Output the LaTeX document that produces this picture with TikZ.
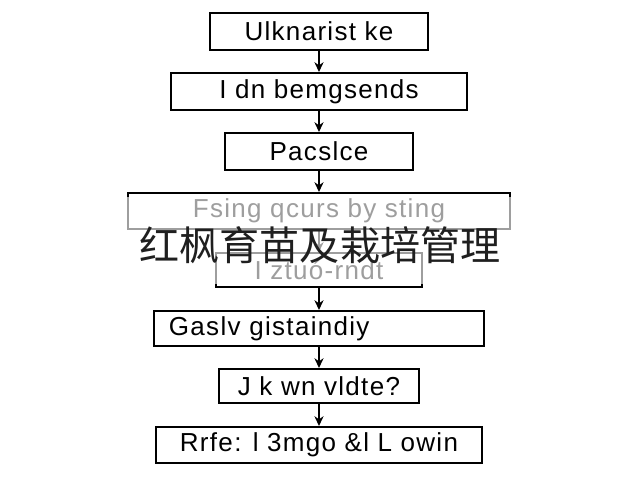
\documentclass[tikz,border=0pt]{standalone}
\usepackage{fontspec}
\setmainfont{Liberation Sans}[LetterSpace=5]
\newfontfamily\cjk{Noto Sans CJK SC}
\usetikzlibrary{arrows.meta}

\begin{document}
\begin{tikzpicture}[x=0.025cm,y=-0.025cm,
    stepbox/.style={draw, line width=1.4pt, inner sep=0pt, align=center,
      font=\fontsize{18.5}{21}\selectfont},
    flow/.style={-{Stealth[length=7pt,width=6.5pt]}, line width=1.2pt}]
    \useasboundingbox (0,0) rectangle (640,480);
    \fill[white] (0,0) rectangle (640,480);
    % steps of the chart
    \node[stepbox, minimum width=5.425cm, minimum height=0.925cm] (s1) at (319,31.5) {Ulknarist ke};
    \node[stepbox, minimum width=7.375cm, minimum height=0.925cm] (s2) at (319,91.5) {I dn bemgsends};
    \node[stepbox, minimum width=4.675cm, minimum height=0.925cm] (s3) at (319,151.5) {Pacslce};
    \node[stepbox, minimum width=9.55cm, minimum height=0.9cm] (s4) at (319,211) {Fsing qcurs by sting};
    \node[stepbox, minimum width=5.15cm, minimum height=0.85cm] (s5) at (319,270) {I ztuó-rndt};
    \node[stepbox, minimum width=8.25cm, minimum height=0.875cm, text width=7.5cm,
      inner xsep=0.375cm, align=left] (s6) at (319,328.5) {Gaslv gistaindiy};
    \node[stepbox, minimum width=5cm, minimum height=0.85cm] (s7) at (319,386) {J k wn vldte?};
    \node[stepbox, minimum width=8.125cm, minimum height=0.9cm] (s8) at (319,445) {Rrfe: l 3mgo \&l L owin};
    \foreach \a/\b in {s1/s2,s2/s3,s3/s4,s4/s5,s5/s6,s6/s7,s7/s8}
    {
      \draw[flow] (\a) -- (\b);
    }
    % faded band under the title
    \fill[white, opacity=0.62] (120,197) rectangle (520,284);
    \node[text=black!88, font=\cjk\fontsize{28.5}{30}\selectfont] (title) at (320,245) {红枫育苗及栽培管理};
  \end{tikzpicture}
\end{document}
